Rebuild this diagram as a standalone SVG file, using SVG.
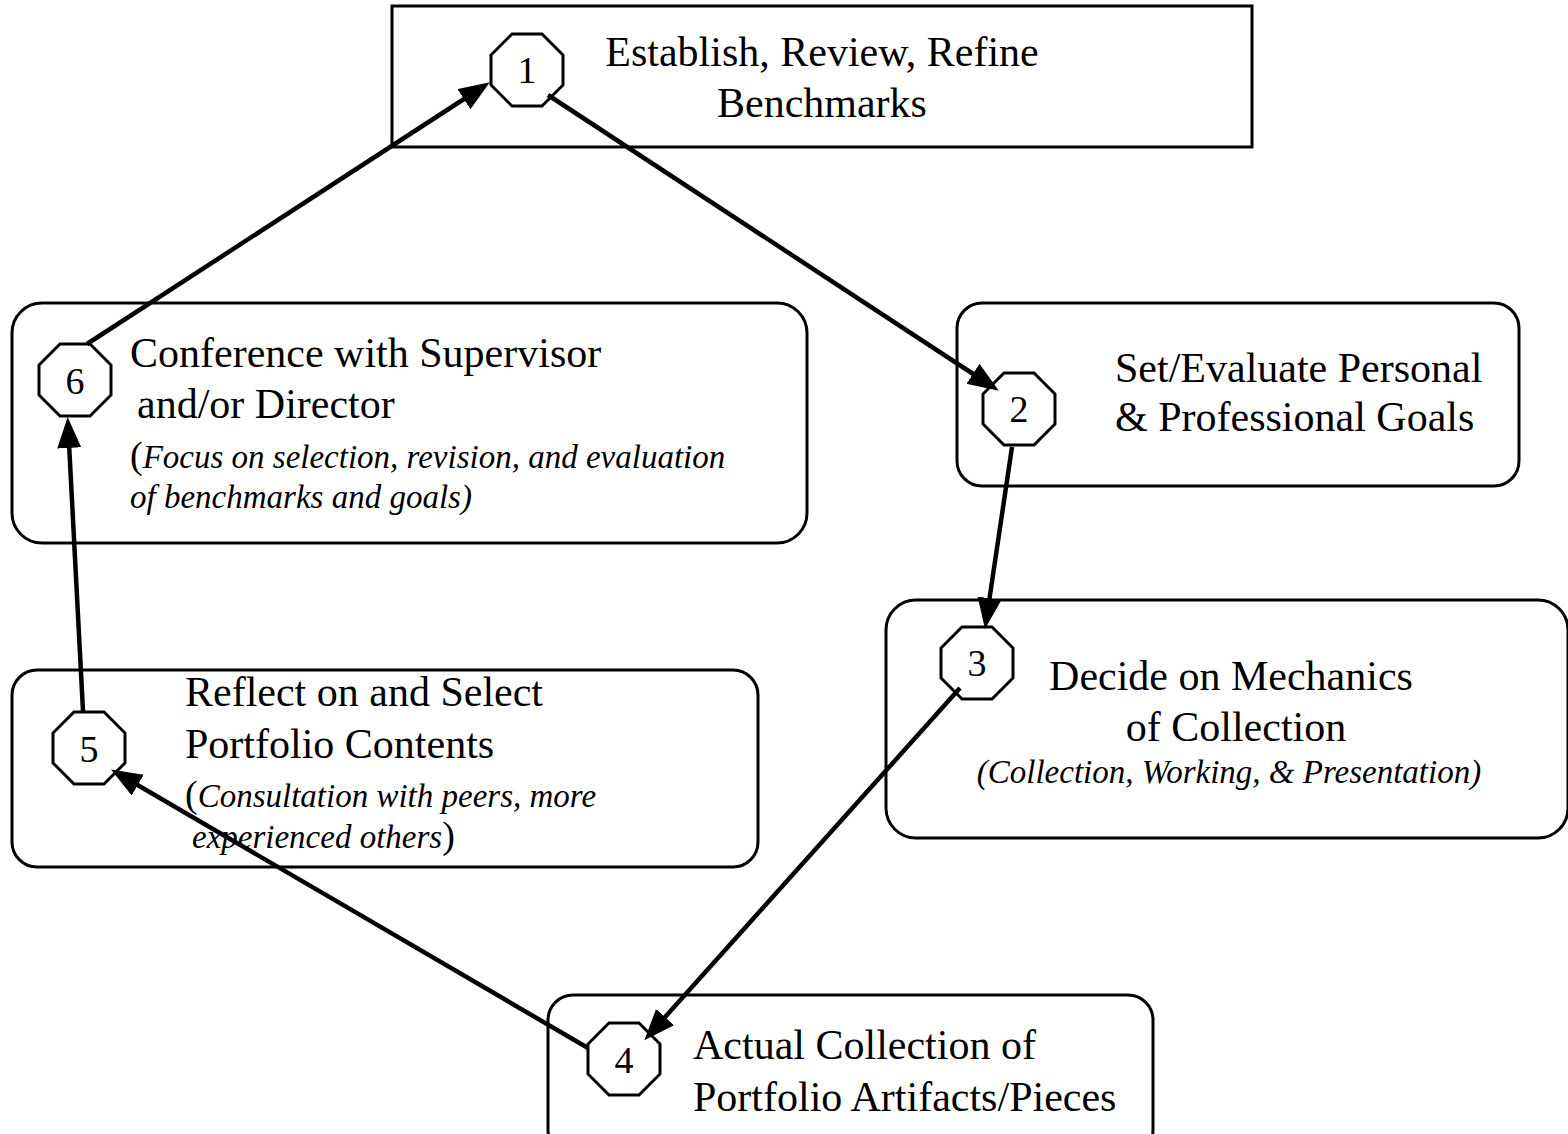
<svg xmlns="http://www.w3.org/2000/svg" width="1568" height="1134" viewBox="0 0 1568 1134">
<style>
.box{fill:#fff;stroke:#000;stroke-width:3}
.oct{fill:#fff;stroke:#000;stroke-width:3}
.t{font-family:"Liberation Serif","Times New Roman",serif;font-size:42px;fill:#000}
.n{font-family:"Liberation Serif","Times New Roman",serif;font-size:38px;fill:#000;text-anchor:middle}
.i{font-family:"Liberation Serif","Times New Roman",serif;font-size:33px;font-style:italic;fill:#000}
.p{font-style:normal;font-size:38px}
.c{stroke:#000;stroke-width:4.5;fill:none;marker-end:url(#ah)}
</style>
<defs>
<marker id="ah" markerUnits="userSpaceOnUse" markerWidth="34" markerHeight="26" refX="24" refY="12" orient="auto">
<path d="M0,0 L31,12 L0,24 z" fill="#000"/>
</marker>
<polygon id="octs" points="-15,-36 15,-36 36,-15 36,15 15,36 -15,36 -36,15 -36,-15"/>
</defs>
<rect width="1568" height="1134" fill="#fff"/>
<g id="node1">
<rect class="box" x="392" y="6" width="860" height="141"/>
<use href="#octs" class="oct" x="527" y="70"/>
<text class="n" x="527" y="83">1</text>
<text class="t" x="822" y="66" text-anchor="middle">Establish, Review, Refine</text>
<text class="t" x="822" y="117" text-anchor="middle">Benchmarks</text>
</g>
<g id="node2">
<rect class="box" x="957" y="303" width="562" height="183" rx="25"/>
<use href="#octs" class="oct" x="1019" y="409"/>
<text class="n" x="1019" y="422">2</text>
<text class="t" x="1115" y="382">Set/Evaluate Personal</text>
<text class="t" x="1115" y="431">&amp; Professional Goals</text>
</g>
<g id="node3">
<rect class="box" x="886" y="600" width="682" height="238" rx="30"/>
<use href="#octs" class="oct" x="977" y="663"/>
<text class="n" x="977" y="676">3</text>
<text class="t" x="1231" y="690" text-anchor="middle">Decide on Mechanics</text>
<text class="t" x="1236" y="741" text-anchor="middle">of Collection</text>
<text class="i" x="1229" y="783" text-anchor="middle">(Collection, Working, &amp; Presentation)</text>
</g>
<g id="node4">
<rect class="box" x="548" y="995" width="605" height="160" rx="25"/>
<use href="#octs" class="oct" x="624" y="1059"/>
<text class="n" x="624" y="1073">4</text>
<text class="t" x="693" y="1059">Actual Collection of</text>
<text class="t" x="693" y="1111">Portfolio Artifacts/Pieces</text>
</g>
<g id="node5">
<rect class="box" x="12" y="670" width="746" height="197" rx="25"/>
<use href="#octs" class="oct" x="89" y="748"/>
<text class="n" x="89" y="762">5</text>
<text class="t" x="185" y="706">Reflect on and Select</text>
<text class="t" x="185" y="758">Portfolio Contents</text>
<text class="i" x="185" y="807"><tspan class="p">(</tspan>Consultation with peers, more</text>
<text class="i" x="192" y="848">experienced others<tspan class="p">)</tspan></text>
</g>
<g id="node6">
<rect class="box" x="12" y="303" width="795" height="240" rx="30"/>
<use href="#octs" class="oct" x="75" y="380"/>
<text class="n" x="75" y="394">6</text>
<text class="t" x="130" y="367">Conference with Supervisor</text>
<text class="t" x="137" y="418">and/or Director</text>
<text class="i" x="130" y="468"><tspan class="p">(</tspan>Focus on selection, revision, and evaluation</text>
<text class="i" x="130" y="508">of benchmarks and goals)</text>
</g>
<g id="connectors">
<line class="c" x1="87" y1="344" x2="484" y2="86"/>
<line class="c" x1="548" y1="95" x2="993" y2="387"/>
<line class="c" x1="1012" y1="447" x2="986" y2="622"/>
<line class="c" x1="960" y1="688" x2="649" y2="1035"/>
<line class="c" x1="588" y1="1048" x2="117" y2="773"/>
<line class="c" x1="83" y1="711" x2="68" y2="424"/>
</g>
</svg>
